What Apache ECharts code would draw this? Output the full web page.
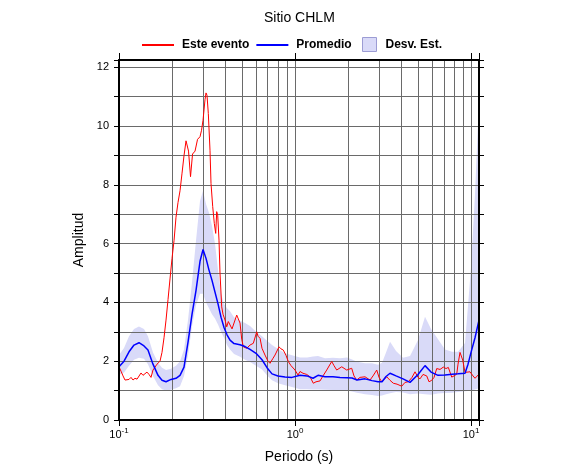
<!DOCTYPE html>
<html><head><meta charset="utf-8">
<script src="https://cdn.jsdelivr.net/npm/echarts@6/dist/echarts.min.js"></script>
<style>html,body{margin:0;padding:0;background:#fff}#c{width:586px;height:475px}</style>
</head><body><div id="c"></div>
<script>
const FONT = "'Liberation Sans', Arial, Helvetica, sans-serif";
const titleText = 'Sitio CHLM';
const xName = 'Periodo (s)';
const yName = 'Amplitud';
const nameEvento = 'Este evento';
const namePromedio = 'Promedio';
const nameDesv = 'Desv. Est.';

// tick labels
const xTicks = [0.1, 1, 10];
const xTickLabels = ['10^-1', '10^0', '10^1'];
const yTickLabels = [0, 2, 4, 6, 8, 10, 12];
const xGridVals = [0.2, 0.3, 0.4, 0.5, 0.6, 0.7, 0.8, 0.9, 1, 2, 3, 4, 5, 6, 7, 8, 9, 10];
const yGridVals = [1, 2, 3, 4, 5, 6, 7, 8, 9, 10, 11, 12];

// Promedio and Desv. Est. (shared periods)
const periods = [
  0.1, 0.1068, 0.114, 0.1217, 0.1299, 0.1387, 0.1461, 0.156, 0.1666, 0.1755,
  0.185, 0.1975, 0.2108, 0.2222, 0.2341, 0.2467, 0.26, 0.2738, 0.2886, 0.3002,
  0.3122, 0.3246, 0.3376, 0.3511, 0.3652, 0.3798, 0.395, 0.4109, 0.4273, 0.4503,
  0.4871, 0.52, 0.5551, 0.6005, 0.6494, 0.6933, 0.7402, 0.8006, 0.8774, 0.9615,
  1.0676, 1.17, 1.2655, 1.3512, 1.4807, 1.644, 1.802, 1.9749, 2.1084, 2.25,
  2.4991, 2.7384, 2.9625, 3.1221, 3.2893, 3.4663, 3.7491, 4.1087, 4.5016, 4.9986,
  5.478, 5.9252, 6.4938, 7.117, 7.7994, 8.4366, 9.2454, 9.615, 10.0, 10.537,
  11.1
];
const promedio = [
  1.81, 2.0, 2.32, 2.55, 2.63, 2.52, 2.38, 1.9, 1.52, 1.35,
  1.30, 1.38, 1.42, 1.52, 1.8, 2.65, 3.6, 4.4, 5.4, 5.8,
  5.5, 5.1, 4.75, 4.35, 3.95, 3.5, 3.15, 2.9, 2.72, 2.6,
  2.56, 2.5, 2.4, 2.27, 2.05, 1.78, 1.57, 1.5, 1.46, 1.45,
  1.52, 1.5, 1.42, 1.52, 1.47, 1.47, 1.45, 1.44, 1.43, 1.36,
  1.4, 1.34, 1.30, 1.30, 1.48, 1.59, 1.50, 1.40, 1.28, 1.55,
  1.85, 1.63, 1.52, 1.53, 1.56, 1.57, 1.59, 1.9, 2.3, 2.8,
  3.4
];
const desvSup = [
  2.21, 2.45, 2.85, 3.1, 3.18, 3.1, 2.85, 2.3, 1.95, 1.78,
  1.70, 1.74, 1.85, 2.0, 2.4, 3.4, 4.7, 6.1, 7.45, 7.8,
  7.35, 7.05, 6.6, 6.0, 5.1, 4.3, 3.95, 3.8, 3.7, 3.5,
  3.38, 3.3, 3.2, 3.0, 2.85, 2.7, 2.55, 2.42, 2.27, 2.2,
  2.13, 2.13, 2.16, 2.18, 2.10, 2.12, 2.10, 2.13, 2.06, 1.98,
  1.93, 1.93, 1.88, 1.95, 2.3, 2.66, 2.35, 2.12, 2.18, 2.72,
  3.51, 3.1, 2.75, 2.4, 2.32, 2.32, 2.62, 3.9, 5.2, 7.7,
  10.9
];
const desvInf = [
  1.53, 1.62, 1.85, 2.05, 2.12, 2.08, 1.9, 1.5, 1.18, 1.05,
  1.0, 1.03, 1.08, 1.15, 1.5, 2.2, 3.2, 3.9, 4.3, 4.3,
  4.0, 3.8, 3.6, 3.45, 3.25, 3.0, 2.8, 2.55, 2.4, 2.25,
  2.15, 2.05, 1.97, 1.85, 1.72, 1.52, 1.35, 1.25, 1.18, 1.12,
  1.05, 1.05, 1.04, 1.04, 1.03, 1.02, 1.02, 1.0, 0.97, 0.93,
  0.88, 0.85, 0.82, 0.83, 0.88, 0.91, 0.95, 0.94, 0.88, 0.9,
  0.88, 0.86, 0.9, 0.92, 0.93, 0.95, 0.98, 0.99, 1.0, 1.04,
  1.08
];

// Este evento
const eventoPeriods = [
  0.1, 0.1027, 0.1054, 0.1082, 0.111, 0.114, 0.117, 0.1201, 0.1233, 0.1266,
  0.1299, 0.1334, 0.1369, 0.1405, 0.1442, 0.1481, 0.152, 0.156, 0.1602, 0.1644,
  0.171, 0.1755, 0.1802, 0.185, 0.1899, 0.1949, 0.2001, 0.2054, 0.2108, 0.2164,
  0.2222, 0.2281, 0.2341, 0.2403, 0.2435, 0.2483, 0.2549, 0.2617, 0.2704, 0.2794,
  0.2886, 0.2944, 0.3002, 0.3041, 0.3081, 0.3122, 0.3162, 0.3217, 0.3289, 0.3332,
  0.3407, 0.3479, 0.3544, 0.359, 0.3637, 0.37, 0.3749, 0.3833, 0.3899, 0.4003,
  0.4093, 0.4179, 0.4273, 0.4387, 0.4503, 0.4665, 0.4764, 0.4871, 0.498, 0.5085,
  0.5317, 0.5551, 0.5796, 0.606, 0.6164, 0.6328, 0.6494, 0.6754, 0.7024, 0.7211,
  0.7499, 0.7698, 0.8111, 0.8326, 0.858, 0.8889, 0.9161, 0.949, 1.0, 1.04,
  1.0676, 1.1103, 1.1655, 1.217, 1.2705, 1.3162, 1.387, 1.4424, 1.514, 1.6162,
  1.6656, 1.7255, 1.8424, 1.9666, 2.0992, 2.1634, 2.2412, 2.341, 2.4991, 2.6677,
  2.7747, 2.9124, 3.0019, 3.1099, 3.3196, 3.4663, 3.619, 3.7985, 4.0394, 4.217,
  4.4029, 4.6216, 4.8066, 4.9986, 5.1314, 5.3364, 5.601, 5.7722, 5.9795, 6.164,
  6.3853, 6.6668, 6.961, 7.2106, 7.4309, 7.7689, 8.0063, 8.2942, 8.4366, 8.6596,
  8.9706, 9.2454, 9.4902, 9.87, 10.265, 10.537, 10.816, 11.1
];
const eventoAmp = [
  1.81, 1.66, 1.50, 1.36, 1.42, 1.38, 1.45, 1.36, 1.42, 1.39,
  1.45, 1.60, 1.52, 1.50, 1.63, 1.55, 1.45, 1.70, 1.80, 1.90,
  2.00, 2.30, 2.80, 3.40, 4.10, 4.80, 5.50, 6.10, 6.90, 7.40,
  7.80, 8.40, 9.00, 9.50, 9.55, 9.15, 8.28, 9.05, 9.15, 9.55,
  9.64, 9.86, 10.2, 10.55, 10.9, 11.13, 11.05, 10.43, 9.18, 8.05,
  7.26, 6.69, 6.35, 7.09, 6.97, 6.12, 5.00, 3.85, 3.60, 3.40,
  3.17, 3.35, 3.40, 3.10, 3.06, 3.57, 3.60, 3.30, 2.75, 2.49,
  2.44, 2.55, 2.61, 3.00, 2.85, 2.78, 2.44, 2.21, 2.00, 1.93,
  2.10, 2.21, 2.49, 2.42, 2.38, 2.20, 1.99, 1.85, 1.70, 1.53,
  1.65, 1.59, 1.55, 1.47, 1.25, 1.30, 1.33, 1.50, 1.70, 1.99,
  1.85, 1.70, 1.81, 1.70, 1.76, 1.50, 1.36, 1.45, 1.47, 1.36,
  1.50, 1.70, 1.45, 1.30, 1.47, 1.35, 1.25, 1.22, 1.15, 1.28,
  1.30, 1.45, 1.64, 1.45, 1.40, 1.55, 1.50, 1.30, 1.35, 1.45,
  1.75, 1.72, 1.80, 1.75, 1.79, 1.46, 1.50, 1.56, 1.90, 2.30,
  2.04, 1.62, 1.62, 1.64, 1.50, 1.42, 1.48, 1.56
];

const chart = echarts.init(document.getElementById('c'), null, {renderer: 'canvas'});

function xLabel(v) {
  const i = xTicks.findIndex(t => Math.abs(Math.log10(t) - Math.log10(v)) < 1e-6);
  if (i < 0) return '';
  const parts = xTickLabels[i].split('^');
  return '{b|' + parts[0] + '}{s|' + parts[1] + '}';
}
function yLabel(v) {
  return yTickLabels.some(t => Math.abs(t - v) < 1e-9) ? String(v) : '';
}

const xMin = 0.1, xMax = 11.1, yMin = 0, yMax = 12.25;
const BAND = '#d9daf8';
const frameLine = {show: true, onZero: false, lineStyle: {color: '#000', width: 2}};
const tickStyle = {color: '#000', width: 1};

const xBase = {
  type: 'log', logBase: 10, min: xMin, max: xMax,
  axisLine: frameLine, splitLine: {show: false}, z: 10
};
const yBase = {
  type: 'value', min: yMin, max: yMax, interval: 1,
  axisLine: frameLine, splitLine: {show: false}, z: 10
};

const gridMarks = xGridVals.map(v => ({xAxis: v})).concat(yGridVals.map(v => ({yAxis: v})));
const bandData = periods.map((p, i) => [p, desvInf[i], desvSup[i]]);

const option = {
  animation: false,
  backgroundColor: '#fff',
  textStyle: {fontFamily: FONT},
  title: {
    text: titleText, left: 264, top: 11, padding: 0,
    textStyle: {fontSize: 14, fontWeight: 'normal', color: '#000', fontFamily: FONT}
  },
  legend: [
    {
      data: [{name: nameEvento, icon: 'rect'}, {name: namePromedio, icon: 'rect'}],
      left: 142, top: 39, padding: 0, itemWidth: 32, itemHeight: 2, itemGap: 7,
      selectedMode: false,
      textStyle: {fontSize: 12, fontWeight: 'bold', color: '#000', fontFamily: FONT, padding: [0, 0, 0, 3]}
    },
    {
      data: [{name: nameDesv, icon: 'rect'}],
      left: 362, top: 37, padding: 0, itemWidth: 14, itemHeight: 14,
      selectedMode: false,
      itemStyle: {color: BAND, borderColor: '#9c9cd4', borderWidth: 1},
      textStyle: {fontSize: 12, fontWeight: 'bold', color: '#000', fontFamily: FONT, padding: [0, 0, 0, 4]}
    }
  ],
  grid: {left: 119, right: 107, top: 60, bottom: 55},
  xAxis: [
    Object.assign({}, xBase, {
      position: 'bottom',
      axisTick: {show: true, inside: false, length: 6, lineStyle: tickStyle},
      axisLabel: {
        show: true, margin: 7, color: '#000', formatter: xLabel,
        rich: {
          b: {fontSize: 11, color: '#000', fontFamily: FONT},
          s: {fontSize: 8, color: '#000', fontFamily: FONT, padding: [0, 0, 8, 0]}
        }
      },
      name: xName, nameLocation: 'middle', nameGap: 30,
      nameTextStyle: {fontSize: 14, color: '#000', fontFamily: FONT}
    }),
    Object.assign({}, xBase, {
      position: 'top',
      axisTick: {show: true, inside: false, length: 7, lineStyle: tickStyle},
      axisLabel: {show: false}
    })
  ],
  yAxis: [
    Object.assign({}, yBase, {
      position: 'left',
      axisTick: {show: true, inside: false, length: 5, lineStyle: tickStyle},
      axisLabel: {show: true, margin: 10, fontSize: 11, color: '#000', fontFamily: FONT, formatter: yLabel},
      name: yName, nameLocation: 'middle', nameGap: 32, nameRotate: 90,
      nameTextStyle: {fontSize: 14, color: '#000', fontFamily: FONT}
    }),
    Object.assign({}, yBase, {
      position: 'right',
      axisTick: {show: true, inside: false, length: 5, lineStyle: tickStyle},
      axisLabel: {show: false}
    })
  ],
  series: [
    {
      name: nameDesv, type: 'custom', z: 1, silent: true,
      itemStyle: {color: BAND},
      data: bandData,
      encode: {x: 0, y: [1, 2]},
      renderItem: function (params, api) {
        if (params.dataIndex !== 0) return null;
        const pts = [];
        for (let i = 0; i < bandData.length; i++) pts.push(api.coord([bandData[i][0], bandData[i][2]]));
        for (let i = bandData.length - 1; i >= 0; i--) pts.push(api.coord([bandData[i][0], bandData[i][1]]));
        return {type: 'polygon', shape: {points: pts}, style: {fill: BAND, stroke: null}};
      },
      markLine: {
        silent: true, z: 2, symbol: ['none', 'none'], animation: false,
        label: {show: false}, emphasis: {disabled: true},
        lineStyle: {color: '#6a6a6a', width: 1, type: 'solid'},
        data: gridMarks
      }
    },
    {
      name: nameEvento, type: 'line', symbol: 'none', z: 3,
      itemStyle: {color: '#ff0000'},
      lineStyle: {color: '#ff0000', width: 1},
      data: eventoPeriods.map((p, i) => [p, eventoAmp[i]])
    },
    {
      name: namePromedio, type: 'line', symbol: 'none', z: 4,
      itemStyle: {color: '#0000ff'},
      lineStyle: {color: '#0000ff', width: 1.5},
      data: periods.map((p, i) => [p, promedio[i]])
    }
  ]
};
chart.setOption(option);
</script>
</body></html>
